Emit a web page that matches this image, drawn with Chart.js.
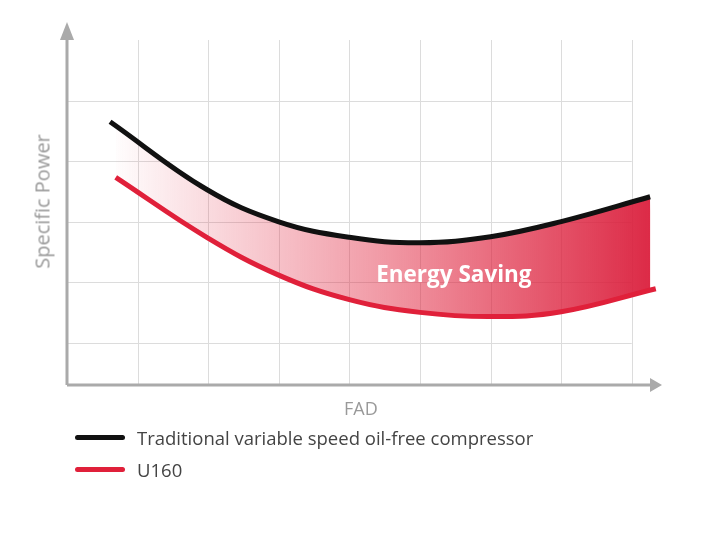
<!DOCTYPE html>
<html>
<head>
<meta charset="utf-8">
<script src="https://cdn.jsdelivr.net/npm/chart.js@4"></script>
<style>
body{margin:0;background:#fff;font-family:"Open Sans",sans-serif}
#wrap{position:relative;width:705px;height:533px}
.lbl{position:absolute;color:#999;font-size:18px}
.leg{position:absolute;left:75px;font-size:18.5px;color:#444;display:flex;align-items:center}
.leg span{display:inline-block;width:50px;height:5px;border-radius:3px;margin-right:12px}
</style>
</head>
<body>
<div id="wrap">
<canvas id="c" width="705" height="533"></canvas>
<div class="lbl" style="left:344px;top:396px">FAD</div>
<div class="lbl" style="left:-28px;top:188px;transform:rotate(-90deg);width:140px;text-align:center;font-size:20px">Specific Power</div>
<div class="leg" style="top:425px"><span style="background:#111"></span>Traditional variable speed oil-free compressor</div>
<div class="leg" style="top:457px"><span style="background:#e0203a"></span>U160</div>
</div>
<script>
// valores
let xTrad = [0.61, 1.98, 2.99, 4.0, 5.0, 6.0, 7.0, 8.26];
let yTrad = [3.65, 2.53, 2.0, 1.74, 1.65, 1.75, 2.0, 2.41];
let xU160 = [0.69, 1.98, 2.99, 4.0, 5.0, 6.0, 7.0, 8.34];
let yU160 = [2.73, 1.74, 1.12, 0.71, 0.5, 0.43, 0.51, 0.89];
let gradeX = [1, 2, 3, 4, 5, 6, 7, 8];
let gradeY = [0, 1, 2, 3, 4];
let textoArea = "Energy Saving";

function pontos(xs, ys){ return xs.map((x, i) => ({x: x, y: ys[i]})); }

const fundo = {
    id: 'fundo',
    beforeDatasetsDraw(chart){
        const c = chart.ctx, sx = chart.scales.x, sy = chart.scales.y;
        c.save();
        c.strokeStyle = '#dcdcdc'; c.lineWidth = 1;
        gradeX.forEach(v => {
            let p = Math.round(sx.getPixelForValue(v)) + 0.5;
            c.beginPath(); c.moveTo(p, sy.getPixelForValue(5)); c.lineTo(p, sy.bottom); c.stroke();
        });
        gradeY.forEach(v => {
            let p = Math.round(sy.getPixelForValue(v)) + 0.5;
            c.beginPath(); c.moveTo(sx.left, p); c.lineTo(sx.getPixelForValue(8), p); c.stroke();
        });
        // eixos com setas
        c.strokeStyle = '#aaa'; c.fillStyle = '#aaa'; c.lineWidth = 3;
        c.beginPath(); c.moveTo(sx.left, sy.bottom); c.lineTo(sx.left, 30); c.stroke();
        c.beginPath(); c.moveTo(sx.left, sy.bottom); c.lineTo(sx.right - 8, sy.bottom); c.stroke();
        c.beginPath(); c.moveTo(sx.left - 7, 40); c.lineTo(sx.left + 7, 40); c.lineTo(sx.left, 22); c.fill();
        c.beginPath(); c.moveTo(sx.right - 10, sy.bottom - 7); c.lineTo(sx.right - 10, sy.bottom + 7); c.lineTo(sx.right + 2, sy.bottom); c.fill();
        c.restore();
    },
    afterDatasetsDraw(chart){
        const c = chart.ctx, sx = chart.scales.x, sy = chart.scales.y;
        c.save();
        c.fillStyle = '#fff'; c.font = 'bold 22.5px "Open Sans"'; c.textAlign = 'center'; c.textBaseline = 'middle';
        c.fillText(textoArea, sx.getPixelForValue(5.48), sy.getPixelForValue(1.1));
        c.restore();
    }
};

function gradiente(context){
    const chart = context.chart, a = chart.chartArea;
    if (!a) return 'rgba(224,32,58,0.5)';
    const sx = chart.scales.x;
    let g = chart.ctx.createLinearGradient(sx.getPixelForValue(0.6), 0, sx.getPixelForValue(8.3), 0);
    g.addColorStop(0, 'rgba(224,32,58,0)');
    g.addColorStop(0.5, 'rgba(224,32,58,0.45)');
    g.addColorStop(1, 'rgba(218,30,60,0.95)');
    return g;
}

new Chart(document.getElementById('c'), {
    type: 'line',
    data: {
        datasets: [{
            data: pontos(xTrad, yTrad),
            borderColor: '#111', borderWidth: 5, pointRadius: 0,
            tension: 0.4, fill: false, order: 1
        }, {
            data: pontos(xU160, yU160),
            borderColor: '#e0203a', borderWidth: 5, pointRadius: 0,
            tension: 0.4, fill: '-1', backgroundColor: gradiente, order: 2
        }]
    },
    options: {
        responsive: false, animation: false,
        layout: {padding: {left: 67, top: 40, right: 45, bottom: 148}},
        plugins: {legend: {display: false}, tooltip: {enabled: false}},
        scales: {
            x: {type: 'linear', min: 0, max: 8.4, display: false},
            y: {min: -0.7, max: 5, display: false}
        }
    },
    plugins: [fundo]
});
</script>
</body>
</html>
